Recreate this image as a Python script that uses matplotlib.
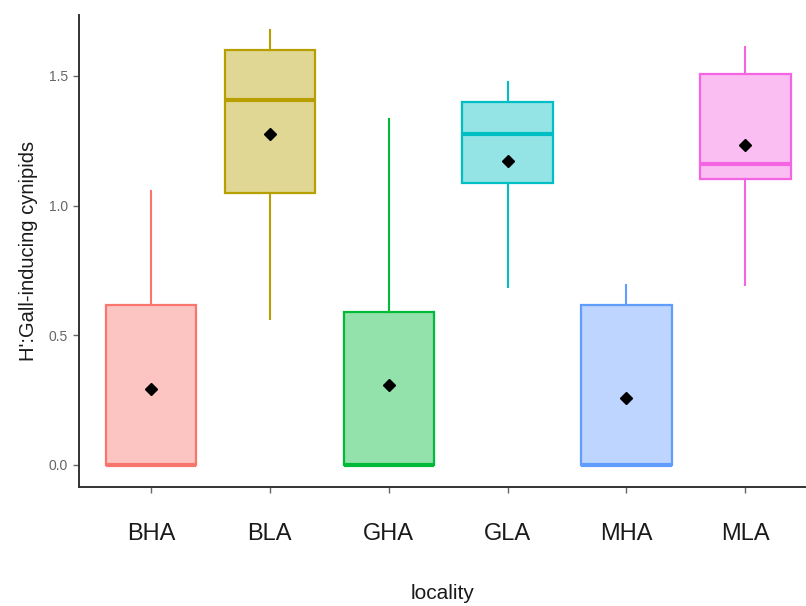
import matplotlib
matplotlib.use("Agg")
import matplotlib.pyplot as plt
import matplotlib.colors as mcolors

categories = ["BHA", "BLA", "GHA", "GLA", "MHA", "MLA"]
whisker_low = [0.0, 0.563, 0.0, 0.686, 0.0, 0.694]
q1 = [0.0, 1.049, 0.0, 1.087, 0.0, 1.103]
median = [0.0, 1.407, 0.0, 1.276, 0.0, 1.160]
q3 = [0.617, 1.600, 0.590, 1.399, 0.617, 1.507]
whisker_high = [1.056, 1.677, 1.334, 1.476, 0.694, 1.611]
means = [0.293, 1.276, 0.308, 1.172, 0.258, 1.234]
colors = ["#F8766D", "#B79F00", "#00BA38", "#00BFC4", "#619CFF", "#F564E3"]
yticks = [0.0, 0.5, 1.0, 1.5]

plt.rcParams['font.family'] = ['Liberation Sans', 'DejaVu Sans']

fig = plt.figure(figsize=(8.06, 6.06), dpi=100)
ax = fig.add_axes([79/806, (606-487)/606, (806-79)/806, (487-15)/606])

stats = []
for i, c in enumerate(categories):
    stats.append(dict(label=c, whislo=whisker_low[i], q1=q1[i], med=median[i],
                      q3=q3[i], whishi=whisker_high[i], mean=means[i], fliers=[]))

positions = list(range(len(categories)))
bp = ax.bxp(stats, positions=positions, widths=0.76, patch_artist=True,
            showcaps=False, showfliers=False, showmeans=False)

alpha = 0.42
for i, col in enumerate(colors):
    rgb = mcolors.to_rgb(col)
    face = tuple(alpha * v + (1 - alpha) for v in rgb)
    bp['boxes'][i].set_facecolor(face)
    bp['boxes'][i].set_edgecolor(col)
    bp['boxes'][i].set_linewidth(1.6)
    bp['medians'][i].set_color(col)
    bp['medians'][i].set_linewidth(3.0)
    for w in bp['whiskers'][2*i:2*i+2]:
        w.set_color(col)
        w.set_linewidth(1.5)

ax.plot(positions, means, linestyle='none', marker='D', color='black', markersize=6.5, zorder=5)

ax.set_xlim(-0.605, 5.51)
ax.set_ylim(-0.085, 1.735)
ax.set_yticks(yticks)
ax.set_yticklabels([f"{v:.1f}" for v in yticks])
ax.set_xticks(positions)
ax.set_xticklabels(categories)

for s in ['top', 'right']:
    ax.spines[s].set_visible(False)
for s in ['left', 'bottom']:
    ax.spines[s].set_color('#333333')
    ax.spines[s].set_linewidth(1.4)

ax.tick_params(axis='y', colors='#666666', labelsize=10, length=4, width=1, pad=4)
ax.tick_params(axis='x', colors='#666666', length=4, width=1, pad=22)
for lab in ax.get_xticklabels():
    lab.set_color('#1a1a1a')
    lab.set_fontsize(17)

ax.set_ylabel("H':Gall-inducing cynipids", fontsize=14.5, color='#1a1a1a', labelpad=8)
ax.set_xlabel("locality", fontsize=15, color='#1a1a1a', labelpad=28)

fig.savefig("out.png", dpi=100)
